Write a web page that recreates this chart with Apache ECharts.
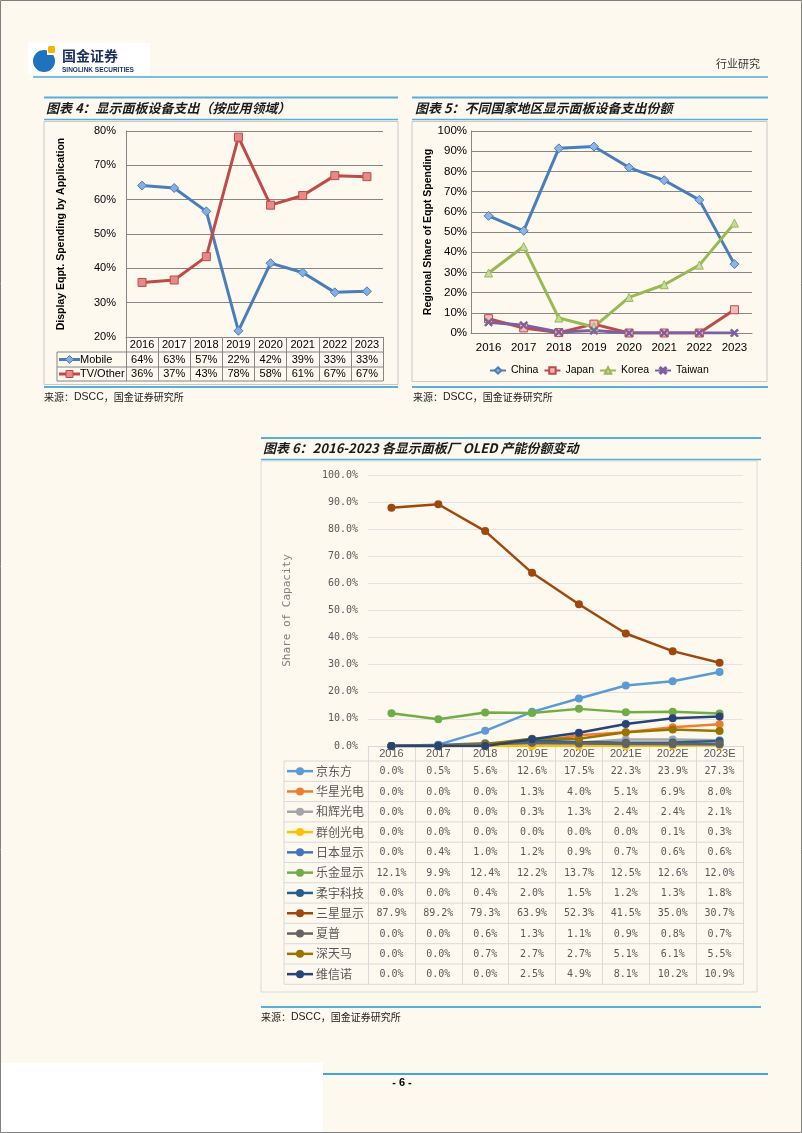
<!DOCTYPE html>
<html><head><meta charset="utf-8">
<script src="https://cdn.jsdelivr.net/npm/echarts@6/dist/echarts.min.js"></script>
<style>html,body{margin:0;padding:0;background:#fdf9ef;}#c{width:802px;height:1133px;}</style>
</head><body><div id="c"></div>
<script>
// ---------- data ----------
const years4 = ['2016','2017','2018','2019','2020','2021','2022','2023'];
const mobile  = [64.1, 63.4, 56.6, 21.8, 41.5, 38.8, 33.0, 33.3];
const tvOther = [35.9, 36.6, 43.4, 78.2, 58.4, 61.2, 67.0, 66.7];

const years5 = ['2016','2017','2018','2019','2020','2021','2022','2023'];
const china  = [58.0, 50.6, 91.4, 92.3, 81.9, 75.6, 65.9, 34.1];
const japan  = [7.1, 2.5, 0.2, 4.4, 0.0, 0.0, 0.0, 11.5];
const korea  = [29.7, 42.8, 7.4, 3.0, 17.6, 23.9, 33.6, 54.4];
const taiwan = [5.3, 3.8, 0.5, 1.2, 0.0, 0.0, 0.0, 0.0];

const years6 = ['2016','2017','2018','2019E','2020E','2021E','2022E','2023E'];
const boe       = [0.0, 0.5, 5.6, 12.6, 17.5, 22.3, 23.9, 27.3];
const csot      = [0.0, 0.0, 0.0, 1.3, 4.0, 5.1, 6.9, 8.0];
const everDisp  = [0.0, 0.0, 0.0, 0.3, 1.3, 2.4, 2.4, 2.1];
const innolux   = [0.0, 0.0, 0.0, 0.0, 0.0, 0.0, 0.1, 0.3];
const jdi       = [0.0, 0.4, 1.0, 1.2, 0.9, 0.7, 0.6, 0.6];
const lgd       = [12.1, 9.9, 12.4, 12.2, 13.7, 12.5, 12.6, 12.0];
const royole    = [0.0, 0.0, 0.4, 2.0, 1.5, 1.2, 1.3, 1.8];
const sdc       = [87.9, 89.2, 79.3, 63.9, 52.3, 41.5, 35.0, 30.7];
const sharp     = [0.0, 0.0, 0.6, 1.3, 1.1, 0.9, 0.8, 0.7];
const tianma    = [0.0, 0.0, 0.7, 2.7, 2.7, 5.1, 6.1, 5.5];
const visionox  = [0.0, 0.0, 0.0, 2.5, 4.9, 8.1, 10.2, 10.9];
const names6 = ['京东方','华星光电','和辉光电','群创光电','日本显示','乐金显示','柔宇科技','三星显示','夏普','深天马','维信诺'];
const values6 = [boe, csot, everDisp, innolux, jdi, lgd, royole, sdc, sharp, tianma, visionox];

// ---------- styles ----------
const AR = '"Liberation Sans", Arial, sans-serif';
const CJK = '"Noto Sans CJK SC", sans-serif';
const MONO = '"DejaVu Sans Mono", monospace';
const colors6 = ['#5B9BD5','#ED7D31','#A5A5A5','#FFC000','#4472C4','#70AD47','#255E91','#9E480E','#636363','#997300','#264478'];
const BLUE = '#5aaedb';
const xMark = 'path://M0,1.5L1.5,0L5,3.5L8.5,0L10,1.5L6.5,5L10,8.5L8.5,10L5,6.5L1.5,10L0,8.5L3.5,5Z';

const chart = echarts.init(document.getElementById('c'), null, {renderer:'canvas', width:802, height:1133});

function ln(name, xi, data, color, symbol, fill, size, w){
  return {type:'line', name, xAxisIndex:xi, yAxisIndex:xi, data, symbol, symbolSize:size,
    showSymbol:true, lineStyle:{color, width:w}, itemStyle:{color:fill, borderColor:color, borderWidth:1},
    emphasis:{disabled:true}, z:3};
}

const series = [
  ln('Mobile', 0, mobile, '#4A7EBB', 'diamond', '#86aee0', 9, 3),
  ln('TV/Other', 0, tvOther, '#BE4B48', 'rect', '#e58a88', 8, 3),
  ln('China', 1, china, '#4A7EBB', 'diamond', '#8eb4e3', 9, 3),
  ln('Japan', 1, japan, '#BE4B48', 'rect', '#f2bcbb', 8, 3),
  ln('Korea', 1, korea, '#98B954', 'triangle', '#c6dba0', 8, 3),
  ln('Taiwan', 1, taiwan, '#7D60A0', xMark, '#7D60A0', 8, 3)
];
names6.forEach((n,i)=>{
  series.push({type:'line', name:n, xAxisIndex:2, yAxisIndex:2, data:values6[i], symbol:'circle', symbolSize:8,
    showSymbol:true, lineStyle:{color:colors6[i], width:2.5}, itemStyle:{color:colors6[i]}, emphasis:{disabled:true}, z:3});
});

const option = {
  animation:false,
  backgroundColor:'#fdf9ef',
  legend:{data:['China','Japan','Korea','Taiwan'], left:484, top:360, itemWidth:16, itemHeight:8, itemGap:5,
    textStyle:{fontSize:10.5, fontFamily:AR, color:'#000'}, selectedMode:false},
  grid:[
    {left:126, top:131, width:257, height:206},
    {left:471, top:131, width:281, height:202},
    {left:368, top:475, width:375, height:271}
  ],
  xAxis:[
    {type:'category', gridIndex:0, data:years4, boundaryGap:true,
     axisLine:{lineStyle:{color:'#868686'}},
     axisTick:{show:true, interval:0, length:44, lineStyle:{color:'#868686'}},
     axisLabel:{interval:0, margin:2, fontSize:11, color:'#000', fontFamily:AR}, splitLine:{show:false}},
    {type:'category', gridIndex:1, data:years5, boundaryGap:true,
     axisLine:{lineStyle:{color:'#868686'}}, axisTick:{show:false},
     axisLabel:{interval:0, margin:9, fontSize:11.5, color:'#000', fontFamily:AR}, splitLine:{show:false}},
    {type:'category', gridIndex:2, data:years6, boundaryGap:true,
     axisLine:{lineStyle:{color:'#d9d9d9'}},
     axisTick:{show:true, interval:0, length:238.3, lineStyle:{color:'#d9d9d9'}},
     axisLabel:{interval:0, margin:2, fontSize:11, color:'#595959', fontFamily:AR}, splitLine:{show:false}}
  ],
  yAxis:[
    {type:'value', gridIndex:0, min:20, max:80, interval:10,
     axisLine:{show:true, lineStyle:{color:'#868686'}}, axisTick:{show:false},
     splitLine:{lineStyle:{color:'#868686'}},
     axisLabel:{formatter:'{value}%', fontSize:11, color:'#000', fontFamily:AR, margin:10},
     name:'Display Eqpt. Spending by Application', nameLocation:'middle', nameGap:59,
     nameTextStyle:{fontWeight:'bold', fontSize:10.5, color:'#000', fontFamily:AR}},
    {type:'value', gridIndex:1, min:0, max:100, interval:10,
     axisLine:{show:true, lineStyle:{color:'#868686'}}, axisTick:{show:false},
     splitLine:{lineStyle:{color:'#868686'}},
     axisLabel:{formatter:'{value}%', fontSize:11.5, color:'#000', fontFamily:AR, margin:4},
     name:'Regional Share of Eqpt Spending', nameLocation:'middle', nameGap:33,
     nameTextStyle:{fontWeight:'bold', fontSize:10.5, color:'#000', fontFamily:AR}},
    {type:'value', gridIndex:2, min:0, max:100, interval:10,
     axisLine:{show:false}, axisTick:{show:false},
     splitLine:{lineStyle:{color:'#e3e3e3'}},
     axisLabel:{formatter:(v)=>v.toFixed(1)+'%', fontSize:10, color:'#595959', fontFamily:MONO, margin:10},
     name:'Share of Capacity', nameLocation:'middle', nameGap:75,
     nameTextStyle:{fontSize:11, color:'#808080', fontFamily:MONO}}
  ],
  series
};
chart.setOption(option);

// ---------- page decoration & tables ----------
function T(x,y,text,o){
  o=o||{};
  const a=o.align||'left', v=o.valign||'middle';
  const st = {x,y,text, fill:o.fill||'#000', fontSize:o.size||11,
    fontFamily:o.family||AR, fontWeight:o.weight||'normal', fontStyle:o.style||'normal',
    textAlign:a, textVerticalAlign:v, align:a, verticalAlign:v};
  if(o.rich) st.rich = o.rich;
  return {type:'text', silent:true, z:o.z||5, style:st};
}
function L(x1,y1,x2,y2,stroke,w,z){
  return {type:'line', silent:true, z:z||4, shape:{x1,y1,x2,y2}, style:{stroke, lineWidth:w||1}};
}
function R(x,y,w,h,fill,stroke,z,r){
  return {type:'rect', silent:true, z:z===undefined?1:z, shape:{x,y,width:w,height:h,r:r||0}, style:{fill:fill||'none', stroke:stroke||'none', lineWidth:1}};
}
const srcRich = {
  a:{fontFamily:CJK, fontSize:10, fill:'#222', color:'#222'},
  b:{fontFamily:AR, fontSize:10.5, fill:'#222', color:'#222'}
};
function SRC(x,y){ return T(x,y,'{a|来源：}{b|DSCC}{a|，国金证券研究所}',{size:10, family:CJK, fill:'#222', rich:srcRich}); }

const g = [];
// page
g.push(R(1,1063,322,69,'#ffffff',null,0));
g.push(R(0.5,0.5,801,1132,'none','#808080',6));
// header logo
g.push(R(28,43,122,32,'#ffffff',null,1));
g.push({type:'circle', silent:true, z:2, shape:{cx:44, cy:61, r:11}, style:{fill:'#1f72bc'}});
g.push(R(47,45,10,10,'#ffffff',null,3));
g.push(R(48,46,7,7,'#f5b400',null,4,1.5));
g.push(T(62,56,'国金证券',{size:14, family:CJK, weight:'bold', fill:'#1b2f5e'}));
g.push(T(62,70,'SINOLINK SECURITIES',{size:6.5, weight:'bold', fill:'#1b2f5e'}));
g.push(T(760,64,'行业研究',{size:11, family:CJK, fill:'#333', align:'right'}));
g.push(L(33,77,768,77,'#7cbde0',2));

// section frames
const titleFont = {size:13, family:CJK, weight:'bold', style:'italic', fill:'#1a1a1a'};
[[44,398],[412,768]].forEach(([a,b])=>{
  g.push(L(a,97.5,b,97.5,BLUE,2));
  g.push(L(a,119.5,b,119.5,BLUE,1.5));
  g.push(L(a,387,b,387,BLUE,2));
});
g.push(R(44,121.5,354,263,'none','#c8c8c8',1));
g.push(R(412,121.5,355,260,'none','#c8c8c8',1));
g.push(T(46,108,'图表 4：显示面板设备支出（按应用领域）',titleFont));
g.push(T(415,108,'图表 5：不同国家地区显示面板设备支出份额',titleFont));
g.push(SRC(44,397));
g.push(SRC(413,397));

g.push(L(261,438,761,438,BLUE,2));
g.push(L(261,459.5,761,459.5,BLUE,1.5));
g.push(R(261,461,496,531,'none','#d9d9d9',1));
g.push(T(263,448,'图表 6：2016-2023 各显示面板厂 OLED 产能份额变动',titleFont));
g.push(L(261,1007,761,1007,BLUE,2));
g.push(SRC(261,1017));

// footer
g.push(L(323,1074,768,1074,'#3fa6e0',2));
g.push(T(402,1083,'- 6 -',{size:11, weight:'bold', align:'center'}));

// chart 4 data table
const c4 = years4.map((_,i)=>chart.convertToPixel({xAxisIndex:0}, i));
const gx4 = c4[0] - 257/16;
const right4 = gx4 + 257;
[352,367,381].forEach(y=>g.push(L(57,y,right4,y,'#868686',1)));
g.push(L(57,352,57,381,'#868686',1));
const rows4 = [
  {name:'Mobile', data:mobile, color:'#4A7EBB', fill:'#86aee0', sym:'diamond', y:359.5},
  {name:'TV/Other', data:tvOther, color:'#BE4B48', fill:'#e58a88', sym:'rect', y:374}
];
rows4.forEach(r=>{
  g.push(L(59,r.y,80,r.y,r.color,3,6));
  if(r.sym==='diamond'){
    g.push({type:'polygon', silent:true, z:7, shape:{points:[[69.5,r.y-4],[73.5,r.y],[69.5,r.y+4],[65.5,r.y]]}, style:{fill:r.fill, stroke:r.color, lineWidth:1}});
  } else {
    g.push({type:'rect', silent:true, z:7, shape:{x:66,y:r.y-3.5,width:7,height:7}, style:{fill:r.fill, stroke:r.color, lineWidth:1}});
  }
  g.push(T(80,r.y,r.name,{size:11}));
  r.data.forEach((v,i)=>g.push(T(c4[i],r.y,Math.round(v)+'%',{size:11, align:'center'})));
});

// chart 6 data table
const c6 = years6.map((_,i)=>chart.convertToPixel({xAxisIndex:2}, i));
const right6 = c6[7] + 375/16;
const top6 = 761, rh = 20.3;
for(let i=0;i<=names6.length;i++) g.push(L(284,top6+i*rh,right6,top6+i*rh,'#d9d9d9',1));
g.push(L(284,top6,284,top6+names6.length*rh,'#d9d9d9',1));
names6.forEach((n,i)=>{
  const y = top6 + rh*(i+0.5);
  g.push(L(287,y,313,y,colors6[i],2.5,6));
  g.push({type:'circle', silent:true, z:7, shape:{cx:300, cy:y, r:4}, style:{fill:colors6[i]}});
  g.push(T(316,y,n,{size:12, family:CJK, fill:'#595959'}));
  values6[i].forEach((v,j)=>g.push(T(c6[j],y+0.5,v.toFixed(1)+'%',{size:10, family:MONO, fill:'#595959', align:'center'})));
});

chart.setOption({graphic:{elements:g}});
</script>
</body></html>
